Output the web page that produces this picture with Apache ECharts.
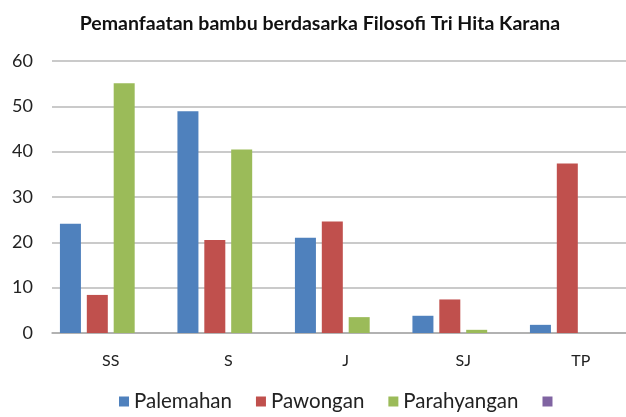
<!DOCTYPE html>
<html style="height: 100%">
<head>
    <meta charset="utf-8">
</head>
<body style="height: 100%; margin: 0; background: #fff; overflow: hidden">
    <!-- chart is a bit wider than the window: the plot runs off the right edge like the source -->
    <div id="container" style="width: 640px; height: 417px"></div>
    <script type="text/javascript" src="https://cdn.jsdelivr.net/npm/echarts@6/dist/echarts.min.js"></script>
    <script type="text/javascript">
        var categories = ['SS', 'S', 'J', 'SJ', 'TP'];
        var palemahan = [24.1, 48.9, 21.0, 3.8, 1.8];
        var pawongan = [8.4, 20.5, 24.6, 7.4, 37.4];
        var parahyangan = [55.1, 40.5, 3.5, 0.7, 0];
        var kosong = [];   // 4th series has no values, only keeps its slot
        var yTicks = [0, 10, 20, 30, 40, 50, 60];

        var font = 'Lato, "Open Sans", sans-serif';
        var myChart = echarts.init(document.getElementById('container'));

        var option = {
            backgroundColor: '#fff',
            animation: false,
            title: {
                text: 'Pemanfaatan bambu berdasarka Filosofi Tri Hita Karana',
                left: 'center',
                top: 9,
                textStyle: { fontFamily: font, fontSize: 19.5, fontWeight: 'bold', color: '#111' }
            },
            legend: {
                bottom: 0,
                left: 114,
                icon: 'rect',
                itemWidth: 10,
                itemHeight: 10,
                itemGap: 24,
                textStyle: { fontFamily: font, fontSize: 20.5, color: '#222' },
                data: ['Palemahan', 'Pawongan', 'Parahyangan', ' ']
            },
            grid: { left: 52, right: 0.5, top: 61, bottom: 84 },
            xAxis: {
                type: 'category',
                data: categories,
                axisTick: { show: false },
                axisLine: { lineStyle: { color: '#aaa', width: 1.5 } },
                axisLabel: { fontFamily: font, fontSize: 16, color: '#222', margin: 20 }
            },
            yAxis: {
                type: 'value',
                min: yTicks[0],
                max: yTicks[yTicks.length - 1],
                interval: 10,
                axisLine: { show: false },
                axisTick: { show: false },
                axisLabel: { fontFamily: font, fontSize: 18, color: '#222', margin: 19 },
                splitLine: { lineStyle: { color: '#b8b8b8', width: 1.5 } }
            },
            series: [
                { name: 'Palemahan', type: 'bar', barWidth: 21, barGap: '28%', data: palemahan, itemStyle: { color: '#4F81BD' } },
                { name: 'Pawongan', type: 'bar', barWidth: 21, barGap: '28%', data: pawongan, itemStyle: { color: '#C0504D' } },
                { name: 'Parahyangan', type: 'bar', barWidth: 21, barGap: '28%', data: parahyangan, itemStyle: { color: '#9BBB59' } },
                { name: ' ', type: 'bar', barWidth: 21, barGap: '28%', data: kosong, itemStyle: { color: '#8064A2' } }
            ]
        };
        myChart.setOption(option);
    </script>
</body>
</html>
